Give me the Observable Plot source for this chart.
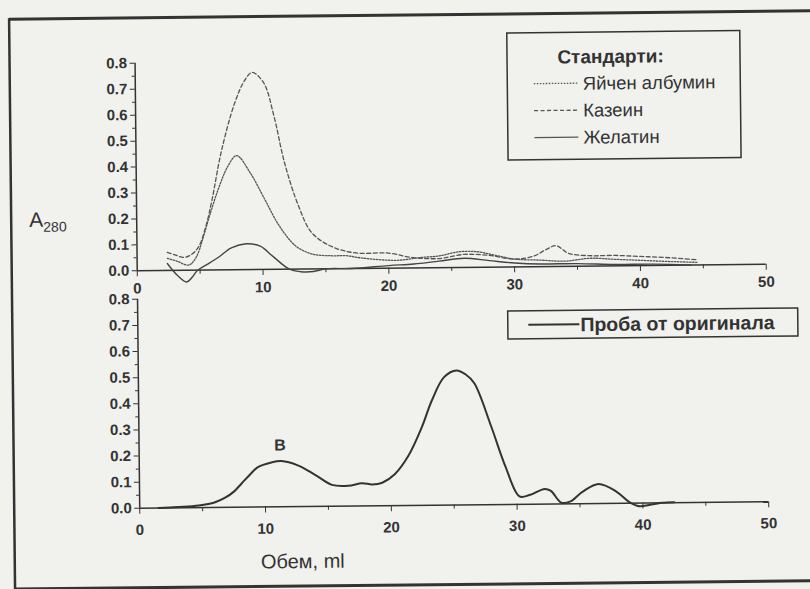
<!DOCTYPE html>
<html><head><meta charset="utf-8">
<script src="https://cdn.jsdelivr.net/npm/d3@7"></script>
<script src="https://cdn.jsdelivr.net/npm/@observablehq/plot@0.6"></script>
<style>
html,body{margin:0;padding:0;background:#f1f1ee;overflow:hidden;}
#wrap{position:relative;width:810px;height:589px;transform:rotate(-0.6deg);transform-origin:405px 295px;font-family:"Liberation Sans",Arial,sans-serif;color:#333;}
#wrap svg{position:absolute;left:0;top:0;overflow:visible;}
</style></head><body><div id="wrap"></div>
<script>
// ---- data (volume in ml, absorbance A280) ----
const albuminX = [2.4, 3.2, 4.1, 4.7, 5.2, 5.8, 6.5, 7.3, 8.0, 9.1, 10.2, 11.3, 12.6, 13.9, 15.5, 16.6, 17.9, 20.6, 22.6, 24, 25.5, 27, 28.5, 30, 32, 34, 36, 38, 40, 42, 44.5];
const albuminY = [0.047, 0.035, 0.02, 0.05, 0.115, 0.21, 0.31, 0.40, 0.44, 0.37, 0.27, 0.17, 0.09, 0.058, 0.05, 0.05, 0.04, 0.03, 0.04, 0.045, 0.06, 0.06, 0.045, 0.03, 0.025, 0.02, 0.03, 0.025, 0.02, 0.015, 0.01];
const kazeinX = [2.4, 3.0, 3.7, 4.3, 4.9, 5.5, 6.0, 6.8, 7.9, 8.7, 9.3, 10.2, 11.0, 11.8, 12.9, 13.9, 15.5, 17.4, 20, 21.9, 24, 26, 28, 30, 31.5, 32.5, 33.3, 34.3, 36, 38, 40, 42, 44.5];
const kazeinY = [0.07, 0.06, 0.05, 0.06, 0.09, 0.17, 0.27, 0.46, 0.645, 0.73, 0.76, 0.72, 0.59, 0.41, 0.24, 0.14, 0.085, 0.06, 0.058, 0.04, 0.035, 0.05, 0.045, 0.03, 0.04, 0.065, 0.08, 0.05, 0.04, 0.04, 0.035, 0.03, 0.02];
const gelatinX = [2.4, 3.2, 3.9, 4.4, 4.8, 5.5, 6.5, 7.5, 8.7, 9.8, 10.8, 12.1, 13, 14, 15, 17, 20, 22, 24, 26, 28, 30, 32, 35, 38, 41, 44];
const gelatinY = [0.027, -0.02, -0.045, -0.025, 0.0, 0.02, 0.05, 0.085, 0.10, 0.09, 0.05, 0.0, -0.01, -0.01, 0.0, 0.0, 0.01, 0.015, 0.025, 0.035, 0.025, 0.015, 0.01, 0.01, 0.005, 0.005, 0.0];
const sampleX = [1.5, 3, 4.7, 6.0, 6.8, 7.5, 8.1, 8.8, 9.4, 10.5, 11.3, 12.6, 14.0, 15.3, 16.6, 17.7, 18.5, 19.3, 20.3, 21.4, 22.5, 23.3, 24.3, 25.3, 26.0, 26.7, 28.0, 29.1, 30.2, 31.0, 32.2, 32.7, 33.5, 34.2, 35.2, 36.5, 37.9, 38.9, 39.7, 40.5, 41.5, 42.5];
const sampleY = [0, 0.003, 0.008, 0.02, 0.037, 0.06, 0.09, 0.125, 0.152, 0.17, 0.175, 0.158, 0.12, 0.082, 0.078, 0.087, 0.082, 0.088, 0.12, 0.19, 0.30, 0.40, 0.49, 0.515, 0.50, 0.465, 0.30, 0.146, 0.03, 0.035, 0.058, 0.05, 0.005, 0.008, 0.045, 0.075, 0.045, 0.005, -0.012, -0.008, 0.0, 0.002];
const seriesNames = ["Яйчен албумин", "Казеин", "Желатин"];
const sampleName = "Проба от оригинала";
const legendTitle = "Стандарти:";
const xTicks = [0, 10, 20, 30, 40, 50];
const xMinorTicks = [5, 15, 25, 35, 45];
const yTicks = [0, 0.1, 0.2, 0.3, 0.4, 0.5, 0.6, 0.7, 0.8];
const yMinorTicks = [0.05, 0.15, 0.25, 0.35, 0.45, 0.55, 0.65, 0.75];
const peakLabels = [{x: 11.2, y: 0.235, text: "В"}];
const xLabel = "Обем, ml";

const zip = (xs, ys) => xs.map((x, i) => ({x, y: ys[i]}));
const W = 810, H = 589, INK = "#333";
const tickFont = {fontSize: 15, fontWeight: "bold"};

function axes(xPad) {
  return [
    Plot.axisY({ticks: yTicks, tickSize: 5, tickPadding: 3, tickFormat: d3.format(".1f"), label: null, ...tickFont}),
    Plot.axisY({ticks: yMinorTicks, tickSize: 3, tickFormat: () => "", label: null}),
    Plot.axisX({ticks: xTicks, tickSize: 6, tickPadding: xPad, tickFormat: d3.format("d"), label: null, ...tickFont}),
    Plot.axisX({ticks: xMinorTicks, tickSize: 4, tickFormat: () => "", label: null}),
    Plot.ruleY([0], {stroke: INK, strokeWidth: 1.5}),
    Plot.ruleX([0], {stroke: INK, strokeWidth: 1.5})
  ];
}
const common = {
  width: W, height: H, marginLeft: 137, marginRight: 44,
  x: {domain: [0, 50]}, y: {domain: [0, 0.8]},
  style: {background: "transparent", color: INK, fontFamily: '"Liberation Sans", Arial, sans-serif', overflow: "visible"}
};

const topPlot = Plot.plot({
  ...common, marginTop: 60, marginBottom: H - 267.5,
  marks: [
    ...axes(6),
    Plot.line(zip(albuminX, albuminY), {x: "x", y: "y", curve: "catmull-rom", stroke: "#555", strokeWidth: 1.3, strokeDasharray: "1.5,1.5"}),
    Plot.line(zip(kazeinX, kazeinY), {x: "x", y: "y", curve: "catmull-rom", stroke: "#555", strokeWidth: 1.3, strokeDasharray: "4,2.5"}),
    Plot.line(zip(gelatinX, gelatinY), {x: "x", y: "y", curve: "catmull-rom", stroke: "#444", strokeWidth: 1.4})
  ]
});
const bottomPlot = Plot.plot({
  ...common, marginTop: 296, marginBottom: H - 505,
  marks: [
    ...axes(10),
    Plot.line(zip(sampleX, sampleY), {x: "x", y: "y", curve: "catmull-rom", stroke: "#333", strokeWidth: 2}),
    Plot.text(peakLabels, {x: "x", y: "y", text: "text", fontSize: 16, fontWeight: "bold", fill: INK})
  ]
});
const wrap = document.getElementById("wrap");
wrap.appendChild(topPlot);
wrap.appendChild(bottomPlot);

// ---- frame, legends, labels ----
const ov = d3.select(wrap).append("svg").attr("width", W).attr("height", H)
  .style("font-family", '"Liberation Sans", Arial, sans-serif');
ov.append("line").attr("x1", 12).attr("x2", W + 10).attr("y1", 15).attr("y2", 15).attr("stroke", INK).attr("stroke-width", 3);
ov.append("line").attr("x1", 12).attr("x2", W + 10).attr("y1", 585).attr("y2", 585).attr("stroke", INK).attr("stroke-width", 3);
ov.append("line").attr("x1", 12).attr("x2", 12).attr("y1", 14).attr("y2", 586).attr("stroke", INK).attr("stroke-width", 2.5);

// top legend
const lg = ov.append("g");
lg.append("rect").attr("x", 509.5).attr("y", 34).attr("width", 233).attr("height", 127)
  .attr("fill", "none").attr("stroke", INK).attr("stroke-width", 1.5);
lg.append("text").attr("x", 613).attr("y", 65).attr("text-anchor", "middle")
  .attr("font-size", 19).attr("font-weight", "bold").attr("fill", INK).text(legendTitle);
const dashes = ["1.5,1.5", "4,2.5", null];
seriesNames.forEach((name, i) => {
  const y = 85 + i * 27;
  lg.append("line").attr("x1", 536).attr("x2", 580).attr("y1", y).attr("y2", y)
    .attr("stroke", "#555").attr("stroke-width", 1.3).attr("stroke-dasharray", dashes[i]);
  lg.append("text").attr("x", 585).attr("y", y + 6.5).attr("font-size", 18.5).attr("fill", INK).text(name);
});
// bottom legend
ov.append("rect").attr("x", 507.5).attr("y", 312).attr("width", 290).attr("height", 28)
  .attr("fill", "none").attr("stroke", INK).attr("stroke-width", 1.5);
ov.append("line").attr("x1", 528).attr("x2", 579).attr("y1", 326).attr("y2", 326).attr("stroke", INK).attr("stroke-width", 2);
ov.append("text").attr("x", 580).attr("y", 333).attr("font-size", 19.5).attr("font-weight", "bold").attr("fill", INK).text(sampleName);

// y label A280
const yl = ov.append("text").attr("x", 30).attr("y", 223).attr("fill", INK).attr("font-size", 21);
yl.append("tspan").text("A");
yl.append("tspan").attr("font-size", 14).attr("dy", 5).text("280");
// x label
ov.append("text").attr("x", 300).attr("y", 567).attr("text-anchor", "middle").attr("font-size", 20).attr("fill", INK).text(xLabel);
</script>
</body></html>
